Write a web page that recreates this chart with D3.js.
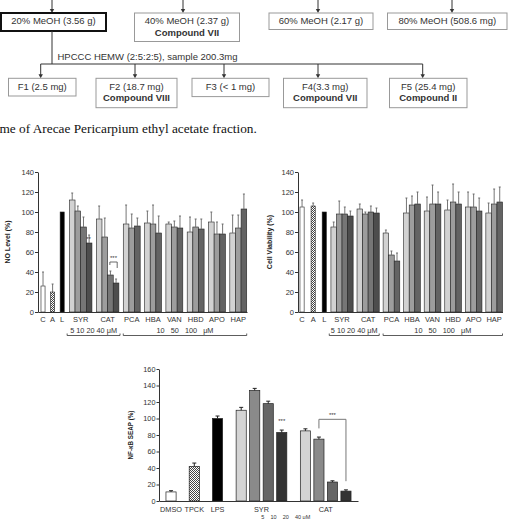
<!DOCTYPE html>
<html><head><meta charset="utf-8">
<script src="https://cdn.jsdelivr.net/npm/d3@7"></script>
<style>
body{margin:0;background:#fff;}
svg{display:block;}
</style>
</head><body>
<svg id="c" width="508" height="519" font-family="'Liberation Sans',Arial,Helvetica,sans-serif"></svg>
<script>
// ---------------- DATA ----------------
// Scheme texts
const fractionLabels = [["20% MeOH (3.56 g)"],["40% MeOH (2.37 g)","Compound VII"],["60% MeOH (2.17 g)"],["80% MeOH (508.6 mg)"]];
const hpcccLabel = "HPCCC HEMW (2:5:2:5), sample 200.3mg";
const subFractionLabels = [["F1 (2.5 mg)"],["F2 (18.7 mg)","Compound VIII"],["F3 (< 1 mg)"],["F4(3.3 mg)","Compound VII"],["F5 (25.4 mg)","Compound II"]];
const captionText = "me of Arecae Pericarpium ethyl acetate fraction.";

// Panel A/B categories
const cellCats = ["C","A","L","SYR","CAT","PCA","HBA","VAN","HBD","APO","HAP"];
const noMeans = [[26],[20],[100],[112,101,85,69],[93,75,37,29],[88,84,86],[89,88,79],[88,85,84],[80,85,83],[90,78,78],[79,84,103]];
const noErrs  = [[14],[8],[0],[7,5,10,8],[13,19,4,4],[19,14,8],[12,19,17],[2,6,12],[15,8,10],[10,12,10],[18,13,15]];
const viaMeans = [[105],[106],[100],[85,98,98,96],[103,98,100,99],[79,57,51],[99,107,108],[101,108,108],[102,110,108],[105,105,101],[99,108,110]];
const viaErrs  = [[7],[3],[0],[5,13,7,5],[5,2,6,5],[3,4,8],[15,9,12],[14,19,12],[10,18,12],[15,13,13],[10,15,15]];
const cellTicks = [0,20,40,60,80,100,120,140];
const doseLabelA = "5 10 20 40 \u03bcM";
const doseLabelB = "10   50   100   \u03bcM";

// Panel C
const seapCats = ["DMSO","TPCK","LPS","SYR","CAT"];
const seapMeans = [[11],[42],[100],[110,134,118,83],[85,75,23,12]];
const seapErrs  = [[1.5],[4],[3],[3.5,2.5,3,3],[2.5,2.5,1.5,1.5]];
const seapTicks = [0,20,40,60,80,100,120,140,160];
const seapDose = "5    10    20    40 \u03bcM";

// ---------------- DRAW ----------------
const SANS = "'Liberation Sans',Arial,Helvetica,sans-serif";
const svg = d3.select("#c");
const defs = svg.append("defs");
const pat = defs.append("pattern").attr("id","chk").attr("patternUnits","userSpaceOnUse")
  .attr("width",2).attr("height",2);
pat.append("rect").attr("width",2).attr("height",2).attr("fill","#fff");
pat.append("rect").attr("width",1).attr("height",1).attr("fill","#444");
pat.append("rect").attr("x",1).attr("y",1).attr("width",1).attr("height",1).attr("fill","#444");

// ---- scheme ----
const sch = svg.append("g");
function arrow(x, y0, y1){
  sch.append("line").attr("x1",x).attr("x2",x).attr("y1",y0).attr("y2",y1-3).attr("stroke","#333").attr("stroke-width",1);
  sch.append("path").attr("d",`M${x-2.2},${y1-4}L${x+2.2},${y1-4}L${x},${y1}Z`).attr("fill","#333");
}
const topArrowX = [52,183,318,452];
topArrowX.forEach(x=>arrow(x,0,13));
const l1Geom = [{x:1,y:13,w:105,h:18,thick:true},{x:134.5,y:13,w:105,h:28.5},{x:269,y:13,w:104,h:16.5},{x:387.5,y:13,w:119.5,h:16.5}];
function box(g, lines, thick){
  sch.append("rect").attr("x",g.x).attr("y",g.y).attr("width",g.w).attr("height",g.h)
    .attr("fill","#fff").attr("stroke",thick?"#111":"#999").attr("stroke-width",thick?2:1);
  lines.forEach((t,i)=>{
    sch.append("text").attr("x",g.x+g.w/2).attr("y",g.y+11.3+i*11.2).attr("text-anchor","middle")
      .attr("font-size",9.5).attr("font-weight",i?"bold":"normal").attr("fill","#333").text(t);
  });
}
fractionLabels.forEach((l,i)=>box(l1Geom[i],l,l1Geom[i].thick));
sch.append("line").attr("x1",52).attr("x2",52).attr("y1",31).attr("y2",64).attr("stroke","#333");
sch.append("line").attr("x1",40.7).attr("x2",422.7).attr("y1",64).attr("y2",64).attr("stroke","#333");
sch.append("text").attr("x",57.5).attr("y",60).attr("font-size",9.5).attr("fill","#333").text(hpcccLabel);
const subArrowX = [40.7,135,224,318,422.7];
subArrowX.forEach(x=>arrow(x,64,78.3));
const l2Geom = [{x:8.5,y:78.3,w:67.5,h:17.7},{x:96,y:78.3,w:81,h:29.4},{x:192,y:78.3,w:77,h:18.3},{x:283.5,y:78.3,w:83.5,h:29.4},{x:389.5,y:78.3,w:77.5,h:29.4}];
subFractionLabels.forEach((l,i)=>box(l2Geom[i],l,false));
svg.append("text").attr("x",-0.5).attr("y",133)
  .style("font-family","'Liberation Serif','Times New Roman',serif")
  .attr("font-size",13.3).attr("fill","#111").text(captionText);

// ---- bar chart helper ----
function layout(cats, means, errs, sg, gg){
  let pos=0; const bars=[], centers=[];
  cats.forEach((c,i)=>{
    const n=means[i].length;
    if(i>0){ pos += (means[i-1].length===1 && n===1) ? sg : gg; }
    const s=pos;
    means[i].forEach((v,j)=>bars.push({cat:c,i,j,n,u:pos+j,v,e:errs[i][j]}));
    pos+=n;
    centers.push({cat:c,u:(s+pos)/2});
  });
  return {bars,centers,total:pos};
}

function barChart(o){
  const L = layout(o.cats,o.means,o.errs,o.sg,o.gg);
  const x = d3.scaleLinear().domain([-o.lead, L.total+o.trail]).range([o.axisX,o.axisEnd]);
  const y = d3.scaleLinear().domain([0,o.yMax]).range([o.yBottom,o.yTop]);
  const unit = x(1)-x(0);
  const g = svg.append("g");
  const fillOf = b=>{
    if(b.n===1) return o.singleFills[b.i];
    return (b.n===4?o.c4:o.c3)[b.j];
  };
  const wOf = b => (b.n===1?o.singleFrac:o.groupFrac)*unit;
  g.selectAll("rect.bar").data(L.bars).join("rect").attr("class","bar")
    .attr("x",b=>x(b.u+0.5)-wOf(b)/2).attr("width",b=>wOf(b))
    .attr("y",b=>y(b.v)).attr("height",b=>y(0)-y(b.v))
    .attr("fill",fillOf).attr("stroke","#222").attr("stroke-width",o.barStroke);
  const eb = L.bars.filter(b=>b.e>0);
  g.selectAll("line.err").data(eb).join("line").attr("class","err")
    .attr("x1",b=>x(b.u+0.5)).attr("x2",b=>x(b.u+0.5))
    .attr("y1",b=>y(b.v)).attr("y2",b=>y(b.v+b.e)).attr("stroke",o.errColor).attr("stroke-width",o.errW);
  g.selectAll("line.cap").data(eb).join("line").attr("class","cap")
    .attr("x1",b=>x(b.u+0.5)-o.capW/2).attr("x2",b=>x(b.u+0.5)+o.capW/2)
    .attr("y1",b=>y(b.v+b.e)).attr("y2",b=>y(b.v+b.e)).attr("stroke",o.errColor).attr("stroke-width",o.errW);
  // axes
  const ya = g.append("g").attr("transform",`translate(${o.axisX},0)`)
    .call(d3.axisLeft(y).tickValues(o.ticks).tickSize(o.tickSize).tickSizeOuter(0).tickPadding(1));
  ya.attr("font-family",SANS).attr("font-size",o.fs);
  ya.selectAll("text").attr("fill","#333");
  ya.selectAll("line,path").attr("stroke","#333");
  const xa = g.append("g").attr("transform",`translate(0,${o.yBottom})`)
    .call(d3.axisBottom(x).tickValues([]).tickSizeOuter(0));
  xa.select("path").attr("stroke","#333");
  g.selectAll("text.cat").data(L.centers).join("text").attr("class","cat")
    .attr("x",d=>x(d.u)).attr("y",o.catY).attr("text-anchor","middle")
    .attr("font-size",o.fs).attr("fill","#333").text(d=>d.cat);
  g.append("text").attr("transform",`translate(${o.ylabX},${(o.yTop+o.yBottom)/2+o.ylabDy}) rotate(-90)`)
    .attr("text-anchor","middle").attr("font-size",o.ylabFs).attr("font-weight","bold").attr("fill","#222").text(o.ylabel);
  return {x,y,L,g};
}

const greys4 = ["#d2d2d2","#9d9d9d","#767676","#4d4d4d"];
const greys3 = ["#d2d2d2","#9d9d9d","#636363"];
const cellSingles = ["#fff","url(#chk)","#000"];

function doseRows(ch, rows){
  rows.forEach(r=>{
    const x0=ch.x(r.u0), x1=ch.x(r.u1);
    ch.g.append("path").attr("d",`M${x0},${r.ly-2}V${r.ly}H${x1}V${r.ly-2}`).attr("fill","none").attr("stroke","#333").attr("stroke-width",0.8);
    ch.g.append("text").attr("x",(x0+x1)/2+r.dx).attr("y",r.ty).attr("text-anchor","middle")
      .attr("font-size",7.3).attr("fill","#333").style("white-space","pre").text(r.t);
  });
}

// Panel A
const chA = barChart({cats:cellCats,means:noMeans,errs:noErrs,sg:0.7,gg:0.78,lead:0.39,trail:0.05,
  axisX:38,axisEnd:247,yTop:172,yBottom:312,yMax:140,ticks:cellTicks,tickSize:3,fs:7.5,
  singleFrac:0.72,groupFrac:1,singleFills:cellSingles,c4:greys4,c3:greys3,barStroke:0.6,
  errColor:"#666",errW:0.9,capW:2,catY:322,ylabel:"NO Level (%)",ylabX:9.5,ylabDy:0,ylabFs:7});
{
  const syr=chA.L.bars.filter(b=>b.cat==="SYR"), cat=chA.L.bars.filter(b=>b.cat==="CAT"), hap=chA.L.bars.filter(b=>b.cat==="HAP"), pca=chA.L.bars.filter(b=>b.cat==="PCA");
  doseRows(chA,[{u0:syr[0].u-0.4,u1:cat[3].u+1.2,ly:335.5,ty:333,t:doseLabelA,dx:0},
                {u0:pca[0].u,u1:hap[2].u+1,ly:335.5,ty:333,t:doseLabelB,dx:0}]);
  const x=chA.x, y=chA.y;
  chA.g.append("text").attr("x",x(syr[3].u+0.4)).attr("y",y(76)+5).attr("text-anchor","middle").attr("font-size",6).attr("fill","#333").text("**");
  const xa=x(cat[2].u+0.4), xb=x(cat[3].u+0.7);
  chA.g.append("path").attr("d",`M${xa},${y(50)+3}V${y(50)}H${xb}V${y(44)}`).attr("fill","none").attr("stroke","#444").attr("stroke-width",0.8);
  chA.g.append("text").attr("x",(xa+xb)/2).attr("y",y(57)+5).attr("text-anchor","middle").attr("font-size",6).attr("fill","#333").text("***");
}

// Panel B
const chB = barChart({cats:cellCats,means:viaMeans,errs:viaErrs,sg:1.0,gg:0.7,lead:0.23,trail:0,
  axisX:298,axisEnd:502.5,yTop:172,yBottom:312,yMax:140,ticks:cellTicks,tickSize:3,fs:7.5,
  singleFrac:0.75,groupFrac:1,singleFills:cellSingles,c4:greys4,c3:greys3,barStroke:0.6,
  errColor:"#666",errW:0.9,capW:2,catY:322,ylabel:"Cell Viability (%)",ylabX:272,ylabDy:0,ylabFs:7});
{
  const syr=chB.L.bars.filter(b=>b.cat==="SYR"), cat=chB.L.bars.filter(b=>b.cat==="CAT"), hap=chB.L.bars.filter(b=>b.cat==="HAP"), pca=chB.L.bars.filter(b=>b.cat==="PCA");
  doseRows(chB,[{u0:syr[0].u-0.3,u1:cat[3].u+1,ly:335.5,ty:333,t:doseLabelA,dx:0},
                {u0:pca[0].u,u1:hap[2].u+1,ly:335.5,ty:333,t:doseLabelB,dx:0}]);
}

// Panel C
const chC = barChart({cats:seapCats,means:seapMeans,errs:seapErrs,sg:0.72,gg:0.75,lead:0.39,trail:0.39,
  axisX:159,axisEnd:358,yTop:369,yBottom:501,yMax:160,ticks:seapTicks,tickSize:2.5,fs:7.3,
  singleFrac:0.75,groupFrac:0.75,singleFills:["#fff","url(#chk)","#000"],
  c4:["#d4d4d4","#8a8a8a","#666","#333"],c3:greys3,barStroke:0.7,
  errColor:"#222",errW:1,capW:4,catY:511.5,ylabel:"NF-\u03baB SEAP (%)",ylabX:133,ylabDy:0,ylabFs:6.3});
{
  const x=chC.x,y=chC.y;
  const syr=chC.L.bars.filter(b=>b.cat==="SYR"), cat=chC.L.bars.filter(b=>b.cat==="CAT");
  chC.g.append("text").attr("x",x(syr[3].u+0.5)).attr("y",y(99)+4).attr("text-anchor","middle").attr("font-size",6).attr("fill","#333").text("***");
  const xa=x(cat[1].u+0.5), xb=x(cat[3].u+0.5);
  chC.g.append("path").attr("d",`M${xa},${y(88)}V${y(99)}H${xb}V${y(24)}`).attr("fill","none").attr("stroke","#777").attr("stroke-width",1);
  chC.g.append("text").attr("x",(xa+xb)/2).attr("y",y(107)+4).attr("text-anchor","middle").attr("font-size",6).attr("fill","#333").text("***");
  chC.g.append("text").attr("x",x(syr[3].u+0.8)).attr("y",519).attr("text-anchor","middle").attr("font-size",5.5).attr("fill","#333").style("white-space","pre").text(seapDose);
}
</script>
</body></html>
